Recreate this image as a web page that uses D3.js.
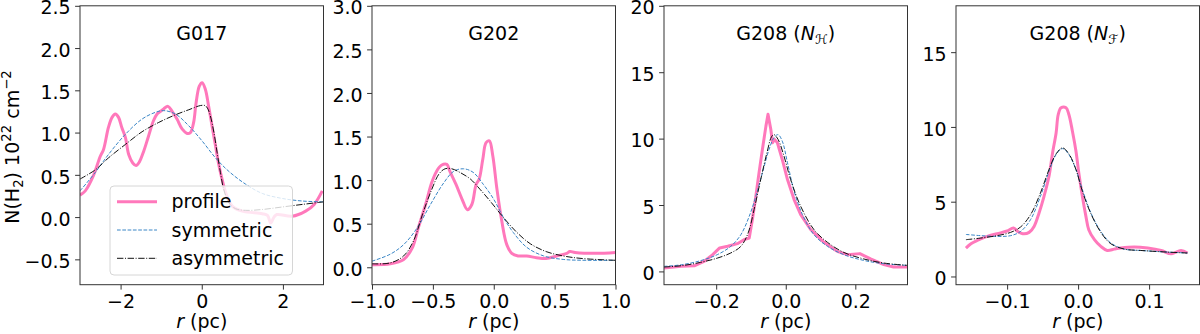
<!DOCTYPE html>
<html><head><meta charset="utf-8">
<script src="https://cdn.jsdelivr.net/npm/d3@7"></script>
<style>
body{margin:0;background:#fff}
svg{display:block}
text{font-family:"DejaVu Sans",sans-serif;fill:#000}
</style>
</head><body>
<svg id="chart" width="1200" height="334"></svg>
<script>
// ---------- data (r in pc, N(H2) in 1e22 cm^-2) ----------
const g017Profile = [[-3,0.26],[-2.87,0.31],[-2.67,0.49],[-2.5,0.72],[-2.42,0.8],[-2.3,1.06],[-2.21,1.18],[-2.13,1.22],[-2.05,1.18],[-1.97,1.06],[-1.88,0.94],[-1.8,0.74],[-1.7,0.64],[-1.62,0.61],[-1.54,0.65],[-1.43,0.78],[-1.31,0.96],[-1.19,1.14],[-1.1,1.22],[-1.02,1.25],[-0.94,1.28],[-0.83,1.31],[-0.73,1.25],[-0.61,1.16],[-0.48,1.04],[-0.36,0.99],[-0.28,1.0],[-0.2,1.12],[-0.14,1.35],[-0.06,1.55],[0.01,1.59],[0.09,1.51],[0.17,1.31],[0.26,1.06],[0.34,0.84],[0.42,0.62],[0.5,0.45],[0.59,0.29],[0.75,0.13],[1.0,0.07],[1.49,0.04],[1.62,0.02],[1.7,-0.07],[1.78,0.0],[1.85,0.03],[2.23,0.01],[2.56,0.07],[2.77,0.15],[2.97,0.31]];
const g017Symmetric = [[-3,0.31],[-2.62,0.53],[-2.3,0.74],[-1.88,0.98],[-1.47,1.16],[-1.14,1.24],[-0.94,1.26],[-0.65,1.22],[-0.32,1.08],[0.01,0.9],[0.34,0.7],[0.67,0.54],[1.08,0.39],[1.49,0.28],[1.99,0.22],[2.48,0.19],[3,0.18]];
const g017Asymmetric = [[-3,0.45],[-2.62,0.56],[-2.3,0.7],[-1.88,0.86],[-1.47,1.01],[-1.06,1.12],[-0.65,1.21],[-0.32,1.27],[-0.03,1.32],[0.08,1.32],[0.14,1.29],[0.21,1.2],[0.3,1.0],[0.38,0.76],[0.46,0.53],[0.54,0.33],[0.67,0.17],[0.83,0.1],[1.08,0.08],[1.49,0.09],[1.99,0.12],[2.48,0.15],[3,0.18]];

const g202Profile = [[-1,0.03],[-0.85,0.04],[-0.74,0.09],[-0.67,0.22],[-0.62,0.45],[-0.56,0.72],[-0.51,0.97],[-0.47,1.1],[-0.43,1.17],[-0.385,1.18],[-0.36,1.1],[-0.31,0.95],[-0.26,0.78],[-0.216,0.66],[-0.18,0.72],[-0.145,0.95],[-0.12,1.01],[-0.09,1.24],[-0.063,1.43],[-0.036,1.45],[-0.008,1.28],[0.025,0.91],[0.066,0.53],[0.107,0.26],[0.148,0.16],[0.2,0.13],[0.27,0.13],[0.35,0.11],[0.43,0.1],[0.516,0.13],[0.6,0.16],[0.625,0.18],[0.667,0.17],[0.84,0.16],[1.0,0.17]];
const g202Symmetric = [[-1,0.07],[-0.85,0.15],[-0.74,0.26],[-0.63,0.45],[-0.52,0.72],[-0.41,0.97],[-0.33,1.1],[-0.25,1.13],[-0.17,1.09],[-0.085,0.95],[0,0.78],[0.08,0.57],[0.16,0.4],[0.27,0.23],[0.41,0.13],[0.57,0.09],[0.75,0.08],[1,0.08]];
const g202Asymmetric = [[-1,0.04],[-0.85,0.05],[-0.74,0.13],[-0.66,0.3],[-0.58,0.63],[-0.51,0.89],[-0.45,1.07],[-0.4,1.13],[-0.345,1.13],[-0.28,1.09],[-0.19,1.01],[-0.11,0.89],[-0.03,0.76],[0.08,0.57],[0.19,0.4],[0.3,0.27],[0.43,0.18],[0.57,0.13],[0.73,0.1],[1,0.08]];

const g208hProfile = [[-0.35,0.26],[-0.3,0.38],[-0.263,0.42],[-0.235,0.75],[-0.21,1.26],[-0.19,1.77],[-0.167,1.89],[-0.139,2.09],[-0.12,2.39],[-0.105,2.52],[-0.096,3.9],[-0.086,5.66],[-0.077,7.4],[-0.067,9.2],[-0.057,10.94],[-0.051,11.83],[-0.043,10.7],[-0.038,9.69],[-0.032,9.94],[-0.024,9.69],[-0.01,8.43],[0.005,6.92],[0.024,5.41],[0.043,4.28],[0.072,3.15],[0.11,2.19],[0.148,1.51],[0.177,1.26],[0.213,1.34],[0.244,0.94],[0.282,0.51],[0.31,0.33],[0.353,0.33]];
const g208hSymmetric = [[-0.35,0.38],[-0.3,0.5],[-0.245,0.81],[-0.197,1.26],[-0.158,1.89],[-0.129,2.77],[-0.105,4.15],[-0.086,5.66],[-0.067,7.43],[-0.048,9.18],[-0.034,10.07],[-0.022,10.3],[-0.01,9.81],[0.005,8.18],[0.024,6.04],[0.048,4.28],[0.081,2.77],[0.12,1.89],[0.167,1.26],[0.224,0.83],[0.282,0.58],[0.353,0.45]];
const g208hAsymmetric = [[-0.35,0.33],[-0.3,0.43],[-0.245,0.68],[-0.197,1.0],[-0.158,1.39],[-0.129,1.89],[-0.108,2.9],[-0.091,4.66],[-0.072,6.92],[-0.054,8.94],[-0.041,10.14],[-0.034,10.3],[-0.022,9.94],[-0.005,8.68],[0.014,6.92],[0.043,4.9],[0.081,3.15],[0.12,2.19],[0.167,1.43],[0.224,0.94],[0.282,0.63],[0.353,0.45]];

const g208fProfile = [[-0.158,1.9],[-0.151,2.19],[-0.142,2.41],[-0.128,2.68],[-0.114,2.86],[-0.1,3.04],[-0.091,3.24],[-0.085,3.01],[-0.078,2.86],[-0.069,2.95],[-0.062,3.35],[-0.055,4.25],[-0.048,5.36],[-0.041,6.7],[-0.036,8.26],[-0.031,9.6],[-0.028,10.83],[-0.024,11.28],[-0.017,11.28],[-0.013,10.83],[-0.008,9.71],[-0.003,8.37],[0.001,6.93],[0.006,5.36],[0.011,4.02],[0.015,3.13],[0.023,2.46],[0.032,2.01],[0.041,1.74],[0.051,1.83],[0.06,1.9],[0.079,1.97],[0.098,1.9],[0.117,1.74],[0.131,1.52],[0.145,1.74],[0.154,1.57]];
const g208fSymmetric = [[-0.158,2.81],[-0.137,2.73],[-0.114,2.68],[-0.095,2.73],[-0.081,3.01],[-0.067,3.8],[-0.053,5.36],[-0.041,7.03],[-0.031,8.15],[-0.022,8.55],[-0.013,8.15],[-0.003,7.15],[0.006,5.81],[0.018,4.25],[0.032,3.01],[0.046,2.24],[0.065,1.83],[0.088,1.74],[0.126,1.63],[0.154,1.57]];
const g208fAsymmetric = [[-0.158,2.46],[-0.137,2.57],[-0.114,2.73],[-0.095,2.95],[-0.081,3.31],[-0.067,4.13],[-0.053,5.59],[-0.041,7.15],[-0.031,8.2],[-0.022,8.6],[-0.013,8.2],[-0.003,7.15],[0.006,5.7],[0.018,4.2],[0.032,2.95],[0.046,2.19],[0.065,1.83],[0.088,1.74],[0.126,1.63],[0.154,1.57]];

// tick labels / domains
const g017XTicks = [-2,0,2], g017YTicks = [-0.5,0,0.5,1,1.5,2,2.5];
const g202XTicks = [-1,-0.5,0,0.5,1], g202YTicks = [0,0.5,1,1.5,2,2.5,3];
const g208hXTicks = [-0.2,0,0.2], g208hYTicks = [0,5,10,15,20];
const g208fXTicks = [-0.1,0,0.1], g208fYTicks = [0,5,10,15];
const seriesNames = ["profile","symmetric","asymmetric"];

// ---------- layout ----------
const svg = d3.select("#chart");
const plotTop = 5.8, plotBottom = 284.7, pw = 243.5;
const FS = 19;
const fmt = (d, n) => d.toFixed(n).replace("-", "\u2212");

const panels = [
  {title:[["G017"]], left:80, xd:[-3,3], yd:[-0.8,2.5], xt:g017XTicks, yt:g017YTicks, xn:0, yn:1,
   data:[g017Profile,g017Symmetric,g017Asymmetric], legend:true, smooth:true},
  {title:[["G202"]], left:372, xd:[-1,1], yd:[-0.2,3.0], xt:g202XTicks, yt:g202YTicks, xn:1, yn:1,
   data:[g202Profile,g202Symmetric,g202Asymmetric], smooth:true},
  {title:[["G208 ("],["N","it"],["\u210B","sub"],[")","back"]], left:664, xd:[-0.35,0.35], yd:[-1,20], xt:g208hXTicks, yt:g208hYTicks, xn:1, yn:0,
   data:[g208hProfile,g208hSymmetric,g208hAsymmetric], smooth:false},
  {title:[["G208 ("],["N","it"],["\u2131","sub"],[")","back"]], left:956, xd:[-0.172,0.171], yd:[-0.55,18.1], xt:g208fXTicks, yt:g208fYTicks, xn:1, yn:0,
   data:[g208fProfile,g208fSymmetric,g208fAsymmetric], smooth:true}
];

const styles = [
  {stroke:"#ff69b4", width:3, dash:null, opacity:0.9},
  {stroke:"#3a86c6", width:1, dash:"3.7,1.6", opacity:1},
  {stroke:"#111", width:1, dash:"6.4,1.6,1,1.6", opacity:1}
];

panels.forEach((p, i) => {
  const x = d3.scaleLinear().domain(p.xd).range([p.left, p.left + pw]);
  const y = d3.scaleLinear().domain(p.yd).range([plotBottom, plotTop]);
  const g = svg.append("g");

  const clipId = "clip" + i;
  svg.append("clipPath").attr("id", clipId).append("rect")
    .attr("x", p.left).attr("y", plotTop).attr("width", pw).attr("height", plotBottom - plotTop);

  const lines = g.append("g").attr("clip-path", `url(#${clipId})`);
  p.data.forEach((d, k) => {
    const curve = (k === 0 && !p.smooth) ? d3.curveLinear : d3.curveCatmullRom.alpha(0.5);
    const line = d3.line().x(v => x(v[0])).y(v => y(v[1])).curve(curve);
    const s = styles[k];
    lines.append("path").datum(d).attr("d", line)
      .attr("fill", "none").attr("stroke", s.stroke).attr("stroke-width", s.width)
      .attr("stroke-opacity", s.opacity).attr("stroke-linejoin","round")
      .attr("stroke-dasharray", s.dash);
  });

  // axes
  const xa = g.append("g").attr("transform", `translate(0,${plotBottom})`)
    .call(d3.axisBottom(x).tickValues(p.xt).tickFormat(d => fmt(d, p.xn)).tickSize(4.9).tickPadding(4.5));
  const ya = g.append("g").attr("transform", `translate(${p.left},0)`)
    .call(d3.axisLeft(y).tickValues(p.yt).tickFormat(d => fmt(d, p.yn)).tickSize(4.9).tickPadding(4.5));
  [xa, ya].forEach(a => {
    a.select(".domain").remove();
    a.selectAll(".tick line").attr("stroke", "#333").attr("stroke-width", 1);
    a.selectAll(".tick text").attr("font-size", FS).attr("font-family", "DejaVu Sans").attr("fill","#000");
  });
  ya.selectAll(".tick text").attr("dy", "0.43em");

  g.append("rect").attr("x", p.left).attr("y", plotTop).attr("width", pw).attr("height", plotBottom - plotTop)
    .attr("fill", "none").attr("stroke", "#333").attr("stroke-width", 1);

  // title
  const t = g.append("text").attr("x", p.left + pw / 2).attr("y", 40)
    .attr("text-anchor", "middle").attr("font-size", FS);
  p.title.forEach(([s, kind]) => {
    const ts = t.append("tspan").text(s);
    if (kind === "it") ts.attr("font-style", "italic");
    if (kind === "sub") ts.attr("font-size", 13).attr("dy", 4).attr("font-style","italic");
    if (kind === "back") ts.attr("dy", -4);
  });

  // x label
  const xl = g.append("text").attr("x", p.left + pw / 2).attr("y", 328)
    .attr("text-anchor", "middle").attr("font-size", FS);
  xl.append("tspan").attr("font-style", "italic").text("r");
  xl.append("tspan").text(" (pc)");

  // legend
  if (p.legend) {
    const lg = g.append("g");
    lg.append("rect").attr("x", 110).attr("y", 186).attr("width", 182.5).attr("height", 89)
      .attr("rx", 4).attr("fill", "#fff").attr("fill-opacity", 0.8)
      .attr("stroke", "#d6d6d6").attr("stroke-width", 1);
    seriesNames.forEach((name, k) => {
      const yy = 201.7 + k * 28.3;
      const s = styles[k];
      lg.append("line").attr("x1", 117).attr("x2", 157).attr("y1", yy).attr("y2", yy)
        .attr("stroke", s.stroke).attr("stroke-width", s.width).attr("stroke-opacity", s.opacity)
        .attr("stroke-dasharray", s.dash);
      lg.append("text").attr("x", 171.5).attr("y", yy + 6.5).attr("font-size", FS).text(name);
    });
  }
});

// y label
const yl = svg.append("text").attr("transform", "translate(18.5,147) rotate(-90)")
  .attr("text-anchor", "middle").attr("font-size", FS);
yl.append("tspan").text("N(H");
yl.append("tspan").attr("font-size", 13.3).attr("dy", 4).text("2");
yl.append("tspan").attr("dy", -4).text(") 10");
yl.append("tspan").attr("font-size", 13.3).attr("dy", -8).text("22");
yl.append("tspan").attr("dy", 8).text(" cm");
yl.append("tspan").attr("font-size", 13.3).attr("dy", -8).text("\u22122");
</script>
</body></html>
